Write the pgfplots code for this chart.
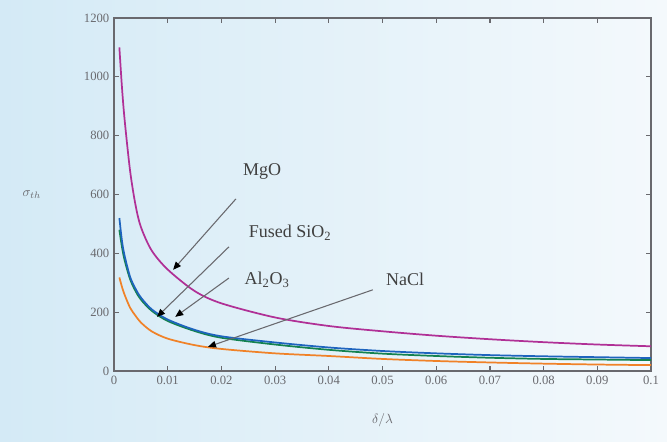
\documentclass[border=0pt]{standalone}
\usepackage{fontspec}
\setmainfont{Liberation Serif}
\usepackage{pgfplots}
\pgfplotsset{compat=1.18}
\usetikzlibrary{arrows.meta}
\definecolor{bgl}{RGB}{212,234,246}
\definecolor{bgr}{RGB}{244,249,252}
\definecolor{axgray}{RGB}{105,105,110}
\definecolor{cmgo}{RGB}{176,48,150}
\definecolor{csio}{RGB}{30,100,190}
\definecolor{calo}{RGB}{20,130,80}
\definecolor{cnacl}{RGB}{240,130,40}
\begin{document}
\begin{tikzpicture}
\useasboundingbox (0,0) rectangle (500.25pt,331.5pt);
\fill[left color=bgl, right color=bgr] (0,0) rectangle (500.25pt,331.5pt);
\begin{axis}[
  at={(85.5pt,53.25pt)}, anchor=south west,
  scale only axis, width=402.75pt, height=264.75pt,
  xmin=0, xmax=0.1, ymin=0, ymax=1200,
  xtick={0,0.01,...,0.1}, ytick={0,200,...,1200},
  /pgf/number format/fixed, /pgf/number format/precision=2,
  /pgf/number format/1000 sep={},
  /pgf/number format/assume math mode=true,
  tick label style={font=\fontsize{9.5}{11}\selectfont, text=axgray},
  axis line style={axgray, line width=1.3pt},
  major tick style={axgray, line width=0.9pt},
  major tick length=4pt,
  xlabel={$\delta/\lambda$}, ylabel={$\sigma_{th}$},
  xlabel style={font=\fontsize{10}{12}\selectfont, text=axgray, anchor=center, at={(axis description cs:0.5,-0.139)}},
  ylabel style={font=\fontsize{10}{12}\selectfont, text=axgray, rotate=-90, anchor=center, at={(axis description cs:-0.153,0.5)}},
  every axis plot/.append style={line width=1.3pt, smooth},
  clip=false,
]
\addplot[cmgo] coordinates {(0.001,1100)(0.0015,960)(0.002,850)(0.003,680)(0.004,565)(0.005,490)(0.007,410)(0.01,345)(0.015,272)(0.02,230)(0.03,182)(0.04,153)(0.05,135)(0.06,120)(0.07,108)(0.08,98)(0.09,90)(0.1,84)};
\addplot[calo] coordinates {(0.001,480)(0.0015,420)(0.002,375)(0.003,312)(0.004,272)(0.005,243)(0.007,205)(0.01,170)(0.015,136)(0.02,113)(0.03,90)(0.04,72)(0.05,59)(0.06,51)(0.07,45)(0.08,41)(0.09,39)(0.1,37)};
\addplot[csio] coordinates {(0.001,520)(0.0015,440)(0.002,390)(0.003,320)(0.004,280)(0.005,250)(0.007,210)(0.01,175)(0.015,140)(0.02,118)(0.03,97)(0.04,80)(0.05,68)(0.06,60)(0.07,54)(0.08,50)(0.09,47)(0.1,44)};
\addplot[cnacl] coordinates {(0.001,318)(0.0015,285)(0.002,258)(0.003,215)(0.004,188)(0.005,165)(0.007,135)(0.01,110)(0.015,88)(0.02,75)(0.03,60)(0.04,51)(0.05,41)(0.06,34)(0.07,29)(0.08,25)(0.09,22)(0.1,20)};
\begin{scope}[font=\fontsize{13.5}{15}\selectfont, text=black!75]
\node at (axis cs:0.0276,677) {MgO};
\node at (axis cs:0.0328,469) {Fused SiO\textsubscript{2}};
\node at (axis cs:0.0285,310) {Al\textsubscript{2}O\textsubscript{3}};
\node at (axis cs:0.0542,310) {NaCl};
\end{scope}
\begin{scope}[axgray, line width=0.8pt, -{Triangle[black, length=6pt, width=5pt]}]
\draw (axis cs:0.0227,585) -- (axis cs:0.011,344);
\draw (axis cs:0.0214,422) -- (axis cs:0.008,184);
\draw (axis cs:0.0214,316) -- (axis cs:0.0114,184);
\draw (axis cs:0.0482,276) -- (axis cs:0.0175,82);
\end{scope}
\end{axis}
\end{tikzpicture}
\end{document}
